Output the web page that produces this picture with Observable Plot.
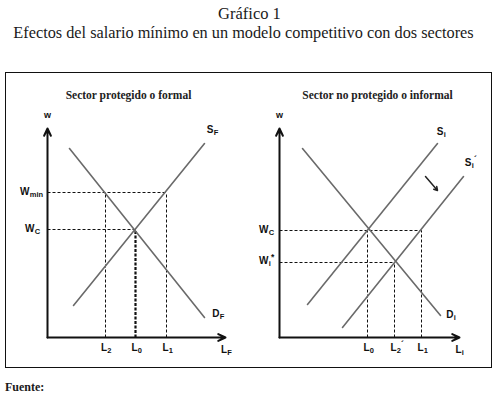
<!DOCTYPE html>
<html><head><meta charset="utf-8">
<script src="https://cdn.jsdelivr.net/npm/d3@7"></script>
<script src="https://cdn.jsdelivr.net/npm/@observablehq/plot@0.6"></script>
<style>
body{margin:0;background:#fff;width:499px;height:400px;position:relative;overflow:hidden}
#t1,#t2{position:absolute;left:0;width:499px;text-align:center;font-family:"Liberation Serif",serif;color:#1a1a1a;white-space:nowrap}
#t1{top:4px;font-size:16.5px;line-height:20px}
#t2{top:23px;font-size:16.3px;line-height:20px;left:-6px}
#box{position:absolute;left:5px;top:72px;width:487px;height:296px;box-sizing:border-box;border:1px solid #111;display:flex}
#box svg{display:block}
#fuente{position:absolute;left:5px;top:380px;font:bold 12px "Liberation Serif",serif;color:#1a1a1a}
</style></head><body>
<div id="t1">Gráfico 1</div>
<div id="t2">Efectos del salario mínimo en un modelo competitivo con dos sectores</div>
<div id="box"></div>
<div id="fuente">Fuente:</div>
<script>
// ---------- data (model units: L on x, w on y) ----------
const panelTitles = ["Sector protegido o formal", "Sector no protegido o informal"];

// Formal (protected) sector
const formalDemand = [{L: 2.2, w: 18.9}, {L: 15.7, w: 2.0}];
const formalSupply = [{L: 2.6, w: 3.2}, {L: 15.7, w: 19.4}];
const formalWc = 10.8, formalWmin = 14.5;
const formalL0 = 8.8, formalL2 = 5.8, formalL1 = 11.9;
const formalAxisEndL = 17.8;

// Informal (unprotected) sector
const informalDemand = [{L: 2.3, w: 18.9}, {L: 16.1, w: 2.2}];
const informalSupply = [{L: 2.8, w: 3.3}, {L: 15.8, w: 19.4}];
const informalSupplyShift = [{L: 6.3, w: 1.0}, {L: 18.4, w: 16.1}];
const informalShiftArrow = [{L: 14.6, w: 16.1}, {L: 15.8, w: 14.7}];
const informalWc = 10.7, informalWstar = 7.5;
const informalL0 = 8.8, informalL2p = 11.5, informalL1 = 14.2;
const informalAxisEndL = 18.0;

const axisTopW = 20.9;

// ---------- helpers ----------
const sans = "Liberation Sans, Arial, sans-serif";
const serif = "Liberation Serif, serif";

function label(x, y, base, sub, sup, o) {
  const pt = [{x, y}];
  const m = [
    Plot.text(pt, {x: "x", y: "y", text: () => base, textAnchor: "end", dx: o.dx, dy: o.dy,
      fontSize: 10, fontWeight: "bold", fontFamily: sans, fill: "#111"})
  ];
  if (sub) m.push(Plot.text(pt, {x: "x", y: "y", text: () => sub, textAnchor: "start", dx: o.dx + 0.3, dy: o.dy + 3.5,
      fontSize: 7.5, fontWeight: "bold", fontFamily: sans, fill: "#111"}));
  if (sup) m.push(Plot.text(pt, {x: "x", y: "y", text: () => sup, textAnchor: "start", dx: o.dx + (o.supDx || 2), dy: o.dy - 3,
      fontSize: 8.5, fontWeight: "bold", fontFamily: sans, fill: "#111"}));
  return m;
}

function seg(x1, y1, x2, y2) { return {x1, y1, x2, y2}; }

function panel(opts) {
  return Plot.plot({
    width: 242, height: 294,
    marginLeft: opts.marginLeft, marginRight: opts.marginRight, marginTop: 54, marginBottom: 30,
    x: {domain: [0, 18], axis: null},
    y: {domain: [0, 21], axis: null},
    style: {background: "transparent", overflow: "visible"},
    marks: [
      // dashed guides
      Plot.link(opts.dashed, {x1: "x1", y1: "y1", x2: "x2", y2: "y2", stroke: "#111", strokeWidth: 1, strokeDasharray: "3,2"}),
      Plot.link(opts.dashedThick, {x1: "x1", y1: "y1", x2: "x2", y2: "y2", stroke: "#111", strokeWidth: 2.2, strokeDasharray: "3,1.5"}),
      // curves
      ...opts.curves.map(c => Plot.line(c, {x: "L", y: "w", stroke: "#6a6a6a", strokeWidth: 1.6})),
      ...(opts.extra || []),
      // axes with arrowheads
      Plot.arrow([seg(0, 0, 0, axisTopW), seg(0, 0, opts.axisEndL, 0)],
        {x1: "x1", y1: "y1", x2: "x2", y2: "y2", stroke: "#111", strokeWidth: 2, headLength: 6, headAngle: 50}),
      // panel title
      Plot.text([opts.title], {x: () => opts.titleL, y: () => axisTopW, text: d => d, dy: -33,
        fontSize: 11.5, fontWeight: "bold", fontFamily: serif, fill: "#222", textAnchor: "middle"}),
      // "w" above the vertical axis
      Plot.text(["w"], {x: () => 0, y: () => axisTopW, text: d => d, dy: -13, fontSize: 9, fontWeight: "bold", fontFamily: sans, fill: "#111"}),
      ...opts.labels.flat()
    ]
  });
}

// ---------- formal panel ----------
const left = panel({
  title: panelTitles[0], titleL: 8.1, marginLeft: 41, marginRight: 21, axisEndL: formalAxisEndL,
  curves: [formalDemand, formalSupply],
  dashed: [
    seg(0, formalWmin, formalL1, formalWmin),
    seg(0, formalWc, formalL0, formalWc),
    seg(formalL2, 0, formalL2, formalWmin),
    seg(formalL1, 0, formalL1, formalWmin)
  ],
  dashedThick: [seg(formalL0, 0, formalL0, formalWc)],
  labels: [
    label(0, formalWmin, "W", "min", null, {dx: -18, dy: -1}),
    label(0, formalWc, "W", "C", null, {dx: -13, dy: -1}),
    label(formalL2, 0, "L", "2", null, {dx: 1.5, dy: 10}),
    label(formalL0, 0, "L", "0", null, {dx: 2, dy: 10}),
    label(formalL1, 0, "L", "1", null, {dx: 2, dy: 10}),
    label(formalAxisEndL, 0, "L", "F", null, {dx: 1.5, dy: 12}),
    label(formalSupply[1].L, formalSupply[1].w, "S", "F", null, {dx: 9, dy: -14}),
    label(formalDemand[1].L, formalDemand[1].w, "D", "F", null, {dx: 15, dy: -4})
  ]
});

// ---------- informal panel ----------
const right = panel({
  title: panelTitles[1], titleL: 9.8, marginLeft: 31, marginRight: 31, axisEndL: informalAxisEndL,
  curves: [informalDemand, informalSupply, informalSupplyShift],
  extra: [
    Plot.arrow([seg(informalShiftArrow[0].L, informalShiftArrow[0].w, informalShiftArrow[1].L, informalShiftArrow[1].w)],
      {x1: "x1", y1: "y1", x2: "x2", y2: "y2", stroke: "#222", strokeWidth: 1.5, headLength: 4, headAngle: 60})
  ],
  dashed: [
    seg(0, informalWc, informalL1, informalWc),
    seg(0, informalWstar, informalL2p, informalWstar),
    seg(informalL0, 0, informalL0, informalWc),
    seg(informalL2p, 0, informalL2p, informalWstar),
    seg(informalL1, 0, informalL1, informalWc)
  ],
  dashedThick: [],
  labels: [
    label(0, informalWc, "W", "C", null, {dx: -11, dy: -1}),
    label(0, informalWstar, "W", "i", "*", {dx: -11, dy: -2, supDx: 2.5}),
    label(informalL0, 0, "L", "0", null, {dx: 2, dy: 10}),
    label(informalL2p, 0, "L", "2", "´", {dx: 2, dy: 10, supDx: 4.5}),
    label(informalL1, 0, "L", "1", null, {dx: 2, dy: 10}),
    label(informalAxisEndL, 0, "L", "i", null, {dx: 2, dy: 12}),
    label(informalSupply[1].L, informalSupply[1].w, "S", "i", null, {dx: 6, dy: -12}),
    label(informalSupplyShift[1].L, informalSupplyShift[1].w, "S", "i", "´", {dx: 8, dy: -14, supDx: 2.5}),
    label(informalDemand[1].L, informalDemand[1].w, "D", "i", null, {dx: 13, dy: -1})
  ]
});

document.getElementById("box").append(left, right);
</script>
</body></html>
